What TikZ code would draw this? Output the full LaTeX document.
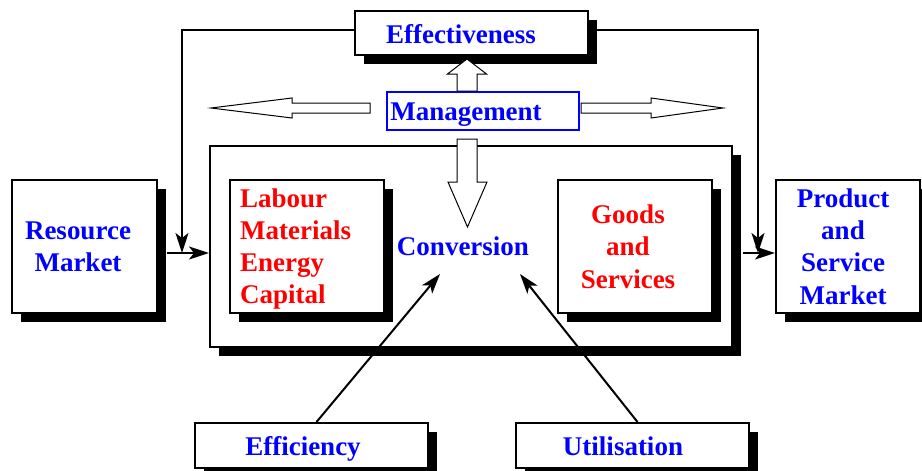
\documentclass[tikz,border=0pt]{standalone}
\usepackage{fontspec}
\setmainfont{Liberation Serif}
\usepackage{xcolor}
\usetikzlibrary{arrows.meta,shadows,positioning}

\tikzset{
  box/.style={draw, line width=2pt, fill=white, inner sep=0pt,
    general shadow={fill=black, shadow xshift=9pt, shadow yshift=-9pt}},
  txt/.style={inner sep=0pt, align=center, font=\bfseries\fontsize{27}{32.3}\selectfont},
  flow/.style={line width=2pt, -{Stealth[length=20pt, width=13pt, inset=5pt]}},
  hollow/.style={draw, line width=1pt, fill=white, line join=miter}
}

\begin{document}
\begin{tikzpicture}[x=1pt, y=-1pt]
\useasboundingbox (0,0) rectangle (922,471);

% main boxes
\node[box, minimum width=522, minimum height=201,
  label={[txt, name=convT, text=blue, xshift=-8pt]center:Conversion}] at (471, 246.5) (conv) {};
\node[box, minimum width=154, minimum height=133,
  label={[txt, name=labT, text=red, align=left, anchor=west, xshift=11pt, yshift=-2.5pt]west:Labour\\Materials\\Energy\\Capital}] at (307, 246.5) (lab) {};
\node[box, minimum width=154, minimum height=133,
  label={[txt, name=goodsT, text=red, xshift=-7pt]center:Goods\\and\\Services}] at (635, 246.5) (goods) {};
\node[box, minimum width=145, minimum height=133,
  label={[txt, name=resT, text=blue, xshift=-6.5pt]center:Resource\\Market}] at (84.5, 246.5) (res) {};
\node[box, minimum width=144, minimum height=133,
  label={[txt, name=prodT, text=blue, xshift=-5pt]center:Product\\and\\Service\\Market}] at (848, 246.5) (prod) {};

\node[box, minimum width=233, minimum height=44,
  label={[txt, name=effT, text=blue, xshift=-10.5pt, yshift=-1pt]center:Effectiveness}] at (471.5, 33) (eff) {};
\node[draw=blue, line width=1.2pt, inner sep=0pt, minimum width=192, minimum height=38,
  label={[txt, name=mgmtT, text=blue, xshift=-17pt, yshift=-4pt]center:Management}] at (483, 111) (mgmt) {};

\node[box, minimum width=233, minimum height=45,
  label={[txt, name=effcT, text=blue, xshift=-8.5pt, yshift=-3pt]center:Efficiency}] at (311.5, 445.5) (effc) {};
\node[box, minimum width=233, minimum height=45,
  label={[txt, name=utilT, text=blue, xshift=-9.5pt, yshift=-0.5pt]center:Utilisation}] at (632.5, 445.5) (util) {};

% hollow arrows round management
\draw[hollow] (457,91) -- (457,74) -- (447.5,74) -- (467,59) -- (486.5,74) -- (477,74) -- (477,91) -- cycle;
\draw[hollow] (457,139) -- (477,139) -- (477,182) -- (487,182) -- (467.5,227) -- (448,182) -- (457,182) -- cycle;
\draw[hollow] (370,103) -- (292,103) -- (292,98) -- (211,108) -- (292,118) -- (292,113) -- (370,113) -- cycle;
\draw[hollow] (581,103) -- (651,103) -- (651,98) -- (723,108) -- (651,118) -- (651,113) -- (581,113) -- cycle;

% flows
\coordinate (effcTip) at (440, 274);
\coordinate (utilTip) at (520, 274);

\draw[flow] ([shift={(9,6.5)}]res.east) -- ([shift={(0,6.5)}]conv.west);
\draw[flow] ([shift={(10,6.5)}]conv.east) -- ([shift={(0,6.5)}]prod.west);
\draw[flow] ([yshift=3pt]eff.west) -| ([shift={(-27,6.5)}]conv.west);
\draw[flow] ([yshift=3pt]eff.east) -| ([shift={(-17,6.5)}]prod.west);

\draw[flow] ([xshift=5pt]effc.north) -- (effcTip);
\draw[flow] ([xshift=5pt]util.north) -- (utilTip);

\end{tikzpicture}
\end{document}
